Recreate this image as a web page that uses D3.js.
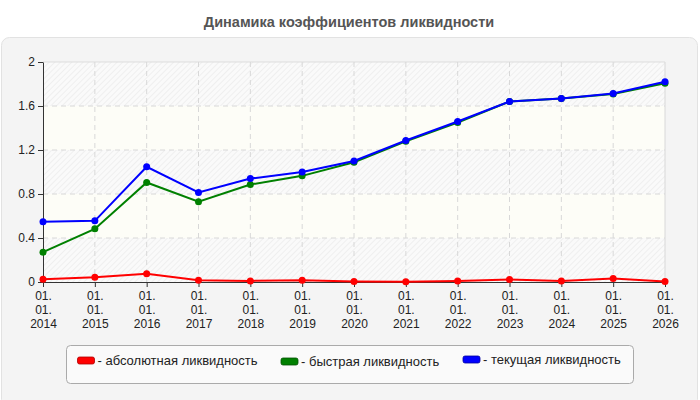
<!DOCTYPE html>
<html>
<head>
<meta charset="utf-8">
<script src="https://cdn.jsdelivr.net/npm/d3@7"></script>
<style>
  body { margin: 0; background: #fff; font-family: "Liberation Sans", Arial, sans-serif; }
</style>
</head>
<body>
<svg width="700" height="400"></svg>
<script>
const years = ['2014','2015','2016','2017','2018','2019','2020','2021','2022','2023','2024','2025','2026'];
const absolute = [0.026, 0.044, 0.074, 0.016, 0.010, 0.015, 0.005, 0.003, 0.010, 0.022, 0.010, 0.032, 0.005];
const quick = [0.271, 0.483, 0.905, 0.729, 0.886, 0.965, 1.089, 1.280, 1.450, 1.640, 1.668, 1.710, 1.807];
const current = [0.547, 0.556, 1.047, 0.814, 0.940, 1.000, 1.100, 1.286, 1.459, 1.640, 1.668, 1.714, 1.820];
const yTicks = [0, 0.4, 0.8, 1.2, 1.6, 2];
const seriesNames = ['абсолютная ликвидность', 'быстрая ликвидность', 'текущая ликвидность'];
const seriesColors = ['#ff0000', '#008000', '#0000ff'];
const swatchStroke = ['#b00000', '#005000', '#0000a0'];

const svg = d3.select('svg');
const margin = {top: 62, left: 43, right: 35, bottom: 118};
const chartWidth = 700 - margin.left - margin.right;
const chartHeight = 400 - margin.top - margin.bottom;

// pattern for hatched bands
const defs = svg.append('defs');
const pat = defs.append('pattern')
    .attr('id', 'hatch').attr('width', 4).attr('height', 4)
    .attr('patternUnits', 'userSpaceOnUse')
    .attr('patternTransform', 'rotate(45)');
pat.append('rect').attr('width', 4).attr('height', 4).attr('fill', '#fafafa');
pat.append('line').attr('x1', 0).attr('y1', 0).attr('x2', 0).attr('y2', 4)
    .attr('stroke', '#ececec').attr('stroke-width', 1.5);

// outer panel
svg.append('rect')
    .attr('x', 1.5).attr('y', 37.5).attr('width', 696).attr('height', 370)
    .attr('rx', 8).attr('fill', '#f4f4f4').attr('stroke', '#e2e2e2');

svg.append('text')
    .attr('x', 349).attr('y', 26.5)
    .attr('text-anchor', 'middle')
    .style('font-size', '14.5px').style('font-weight', 'bold').style('fill', '#555')
    .text('Динамика коэффициентов ликвидности');

const chartArea = svg.append('g')
    .attr('transform', `translate(${margin.left},${margin.top})`);

const x = d3.scalePoint().domain(years).range([0, chartWidth]);
const y = d3.scaleLinear().domain([0, 2]).range([chartHeight, 0]);

// background bands
for (let i = 0; i < yTicks.length - 1; i++) {
    chartArea.append('rect')
        .attr('x', 0).attr('width', chartWidth)
        .attr('y', y(yTicks[i + 1])).attr('height', y(yTicks[i]) - y(yTicks[i + 1]))
        .attr('fill', i % 2 === 0 ? 'url(#hatch)' : '#fdfdf7');
}

// grid
chartArea.append('g').selectAll('line').data(yTicks.slice(1)).join('line')
    .attr('x1', 0).attr('x2', chartWidth)
    .attr('y1', d => y(d)).attr('y2', d => y(d))
    .attr('stroke', d => d === 2 ? '#dddddd' : '#d8d8d8')
    .attr('stroke-dasharray', d => d === 2 ? null : '5,4');
chartArea.append('g').selectAll('line').data(years.slice(1)).join('line')
    .attr('x1', d => x(d)).attr('x2', d => x(d))
    .attr('y1', 0).attr('y2', chartHeight)
    .attr('stroke', '#d8d8d8')
    .attr('stroke-dasharray', d => d === '2026' ? null : '5,4');

// axes
const yAxis = chartArea.append('g')
    .call(d3.axisLeft(y).tickValues(yTicks).tickSize(5).tickSizeOuter(0).tickFormat(d => d === 0 || d === 2 ? d : d3.format('.1f')(d)));
yAxis.select('.domain').attr('stroke', '#333');
yAxis.selectAll('.tick line').attr('stroke', '#333');
yAxis.selectAll('.tick text').style('font-size', '12px').style('fill', '#222')
    .style('font-family', '"Liberation Sans", Arial, sans-serif');

const xAxis = chartArea.append('g')
    .attr('transform', `translate(0,${chartHeight})`)
    .call(d3.axisBottom(x).tickSize(5).tickSizeOuter(0).tickFormat(''));
xAxis.select('.domain').attr('stroke', '#333');
xAxis.selectAll('.tick line').attr('stroke', '#333');
xAxis.selectAll('.tick').each(function(d) {
    const t = d3.select(this).append('text')
        .attr('text-anchor', 'middle').attr('fill', '#222')
        .style('font-size', '12px')
        .style('font-family', '"Liberation Sans", Arial, sans-serif');
    ['01.', '01.', d].forEach((s, i) => {
        t.append('tspan').attr('x', 0).attr('y', 18 + i * 14).text(s);
    });
});

// lines
const line = d3.line().x((d, i) => x(years[i])).y(d => y(d));
[absolute, quick, current].forEach((vals, k) => {
    chartArea.append('path')
        .datum(vals)
        .attr('d', line)
        .attr('fill', 'none')
        .attr('stroke', seriesColors[k])
        .attr('stroke-width', 2);
    chartArea.append('g').selectAll('circle').data(vals).join('circle')
        .attr('cx', (d, i) => x(years[i]))
        .attr('cy', d => y(d))
        .attr('r', 3.5)
        .attr('fill', seriesColors[k]);
});

// legend
const legend = svg.append('g');
legend.append('rect')
    .attr('x', 66.5).attr('y', 345.5).attr('width', 567).attr('height', 38)
    .attr('rx', 4).attr('fill', '#fafafa').attr('stroke', '#aaaaaa');
const legendX = [77.5, 281, 463];
const legendY = [357, 358, 356];
seriesNames.forEach((name, k) => {
    legend.append('rect')
        .attr('x', legendX[k]).attr('y', legendY[k])
        .attr('width', 17).attr('height', 7).attr('rx', 2)
        .attr('fill', seriesColors[k]).attr('stroke', swatchStroke[k]).attr('stroke-width', 0.8);
    legend.append('text')
        .attr('x', legendX[k] + 20).attr('y', legendY[k] + 8)
        .style('font-size', '13px').style('fill', '#222')
        .text('- ' + name);
});
</script>
</body>
</html>
